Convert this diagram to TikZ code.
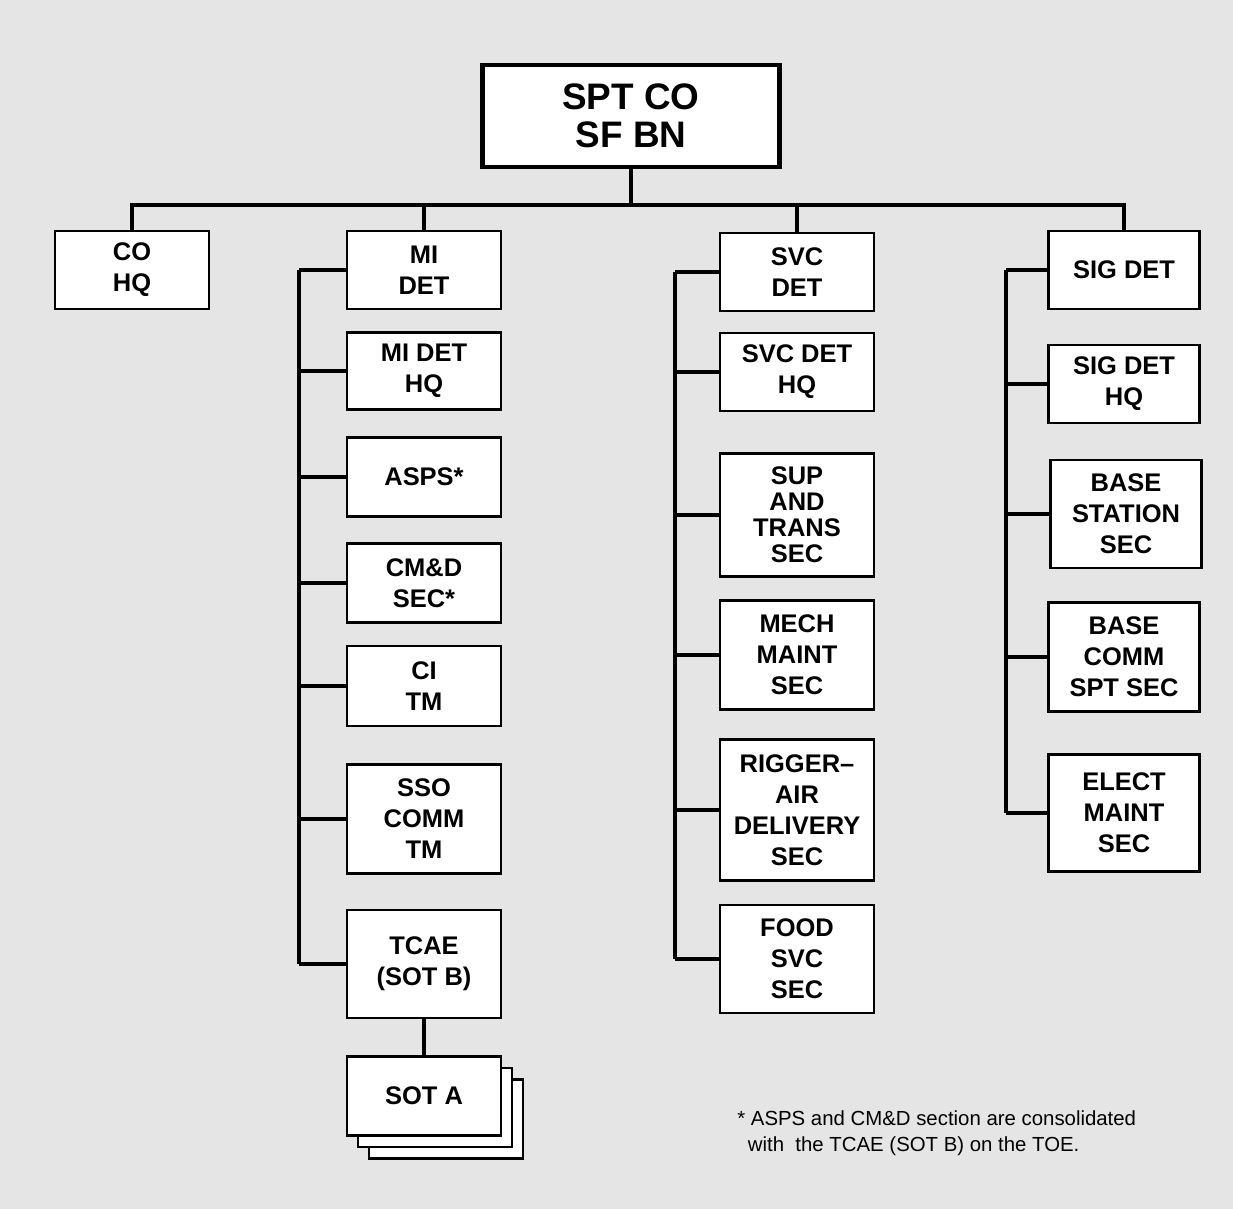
\documentclass[tikz,border=0pt]{standalone}
\usepackage{fontspec}
\setmainfont{Liberation Sans}
\usetikzlibrary{shadows}
\definecolor{paper}{RGB}{229,229,229}

\begin{document}
\begin{tikzpicture}[x=0.02cm, y=-0.02cm,
  box/.style={draw, fill=white, line width=1.6pt, minimum width=3.08cm, inner sep=0pt,
    align=center, font=\bfseries\fontsize{14.5}{17.6}\selectfont},
  link/.style={line width=1.9pt}]
  % page
  \fill[paper] (0,0) rectangle (1233,1209);

  % battalion
  \node[box, line width=2.6pt, minimum width=5.94cm, minimum height=2.04cm,
    font=\bfseries\fontsize{21}{21.6}\selectfont] (top) at (631,116) {SPT CO\\SF BN};
  \coordinate (bus) at (631,205);

  % detachments
  \node[box, minimum height=1.56cm] (cohq) at (132,270) {CO\\HQ};
  \node[box, minimum height=1.56cm] (midet) at (424,270) {MI\\DET};
  \node[box, minimum height=1.56cm] (svcdet) at (797,272) {SVC\\DET};
  \node[box, minimum height=1.56cm, minimum width=3.02cm] (sigdet) at (1124,270) {SIG DET};

  % MI det
  \node[box, minimum height=1.54cm] (midethq) at (424,371) {MI DET\\HQ};
  \node[box, minimum height=1.58cm] (asps) at (424,477) {ASPS*};
  \node[box, minimum height=1.58cm] (cmd) at (424,583) {CM\&D\\SEC*};
  \node[box, minimum height=1.6cm] (citm) at (424,686) {CI\\TM};
  \node[box, minimum height=2.18cm] (sso) at (424,819) {SSO\\COMM\\TM};
  \node[box, minimum height=2.16cm] (tcae) at (424,964) {TCAE\\(SOT B)};
  \node[box, minimum height=1.58cm,
    double copy shadow={shadow xshift=0.22cm, shadow yshift=-0.23cm}] (sota) at (424,1096) {SOT A};

  % SVC det
  \node[box, minimum height=1.56cm] (svchq) at (797,372) {SVC DET\\HQ};
  \node[box, minimum height=2.46cm, font=\bfseries\fontsize{14.5}{14.8}\selectfont]
    (sup) at (797,515) {SUP\\AND\\TRANS\\SEC};
  \node[box, minimum height=2.18cm] (mech) at (797,655) {MECH\\MAINT\\SEC};
  \node[box, minimum height=2.82cm] (rigger) at (797,810) {RIGGER--\\AIR\\DELIVERY\\SEC};
  \node[box, minimum height=2.16cm] (food) at (797,959) {FOOD\\SVC\\SEC};

  % SIG det
  \node[box, minimum height=1.56cm, minimum width=3.02cm] (sighq) at (1124,384) {SIG DET\\HQ};
  \node[box, minimum height=2.16cm, minimum width=3.02cm] (base) at (1126,514) {BASE\\STATION\\SEC};
  \node[box, minimum height=2.18cm, minimum width=3.02cm] (comm) at (1124,657) {BASE\\COMM\\SPT SEC};
  \node[box, minimum height=2.34cm, minimum width=3.02cm] (elect) at (1124,813) {ELECT\\MAINT\\SEC};

  % tree
  \draw[link] (top.south) -- (bus);
  \draw[link] (cohq.north) -- (cohq.north |- bus) -- (sigdet.north |- bus) -- (sigdet.north);
  \draw[link] (midet.north) -- (midet.north |- bus);
  \draw[link] (svcdet.north) -- (svcdet.north |- bus);

  \coordinate (mil) at (299,0);
  \coordinate (svcl) at (675,0);
  \coordinate (sigl) at (1006,0);
  \draw[link] (midet.west -| mil) -- (tcae.west -| mil);
  \foreach \n in {midet,midethq,asps,cmd,citm,sso,tcae}
    \draw[link] (\n.west) -- (\n.west -| mil);
  \draw[link] (svcdet.west -| svcl) -- (food.west -| svcl);
  \foreach \n in {svcdet,svchq,sup,mech,rigger,food}
    \draw[link] (\n.west) -- (\n.west -| svcl);
  \draw[link] (sigdet.west -| sigl) -- (elect.west -| sigl);
  \foreach \n in {sigdet,sighq,base,comm,elect}
    \draw[link] (\n.west) -- (\n.west -| sigl);
  \draw[link] (tcae.south) -- (sota.north);

  % footnote
  \node[anchor=north west, align=left, inner sep=0pt, font=\fontsize{11.6}{14.8}\selectfont]
    (note) at (737,1110) {* ASPS and CM\&D section are consolidated\\
    \hspace*{6pt}with\ \ the TCAE (SOT B) on the TOE.};
\end{tikzpicture}
\end{document}
